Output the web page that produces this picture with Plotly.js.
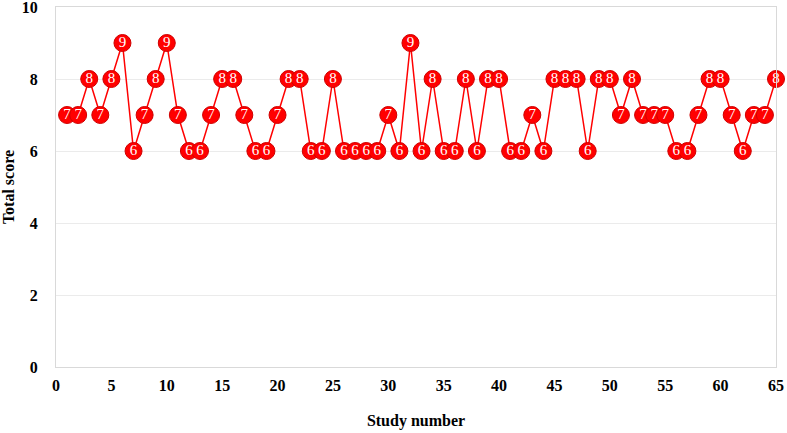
<!DOCTYPE html>
<html>
<head>
<meta charset="utf-8">
<script src="https://cdn.plot.ly/plotly-3.0.1.min.js"></script>
<style>html,body{margin:0;padding:0;background:#fff;}#chart{width:787px;height:433px;}</style>
</head>
<body>
<div id="chart"></div>
<script>
const studyNumbers = [];
for (let i = 1; i <= 65; i++) studyNumbers.push(i);
const totalScores = [7,7,8,7,8,9,6,7,8,9,7,6,6,7,8,8,7,6,6,7,8,8,6,6,8,6,6,6,6,7,6,9,6,8,6,6,8,6,8,8,6,6,7,6,8,8,8,6,8,8,7,8,7,7,7,6,6,7,8,8,7,6,7,7,8];
const xTicks = [0,5,10,15,20,25,30,35,40,45,50,55,60,65];
const yTicks = [0,2,4,6,8,10];

const serif = '"Liberation Serif", "Times New Roman", serif';

const trace = {
  x: studyNumbers,
  y: totalScores,
  mode: 'lines+markers+text',
  text: totalScores.map(String),
  textposition: 'middle center',
  textfont: {family: serif, size: 15, color: '#ffffff'},
  line: {color: '#ff0000', width: 1.5},
  marker: {color: '#ff0000', size: 17, line: {color: '#d00000', width: 1}},
  cliponaxis: false,
  hoverinfo: 'x+y'
};

const layout = {
  width: 787, height: 433,
  margin: {l: 56, r: 11, t: 7, b: 66},
  paper_bgcolor: '#ffffff',
  plot_bgcolor: '#ffffff',
  showlegend: false,
  xaxis: {
    range: [0, 65],
    tickvals: xTicks,
    ticktext: xTicks.map(String),
    showgrid: false,
    zeroline: false,
    showline: true, mirror: true, linecolor: '#d9d9d9', linewidth: 1,
    ticks: 'outside', ticklen: 4, tickcolor: 'rgba(0,0,0,0)',
    ticklabeloverflow: 'allow',
    tickfont: {family: serif, size: 16, color: '#000000', weight: 'bold'},
    title: {text: '<b>Study number</b>', font: {family: serif, size: 16, color: '#000000'}, standoff: 21}
  },
  yaxis: {
    range: [0, 10],
    tickvals: yTicks,
    ticktext: yTicks.map(String),
    showgrid: true, gridcolor: '#ebebeb', gridwidth: 1,
    zeroline: false,
    showline: true, mirror: true, linecolor: '#d9d9d9', linewidth: 1,
    ticks: 'outside', ticklen: 14, tickcolor: 'rgba(0,0,0,0)',
    ticklabeloverflow: 'allow',
    tickfont: {family: serif, size: 16, color: '#000000', weight: 'bold'},
    title: {text: '<b>Total score</b>', font: {family: serif, size: 16, color: '#000000'}, standoff: 4}
  }
};

Plotly.newPlot('chart', [trace], layout, {displayModeBar: false, staticPlot: true});
</script>
</body>
</html>
